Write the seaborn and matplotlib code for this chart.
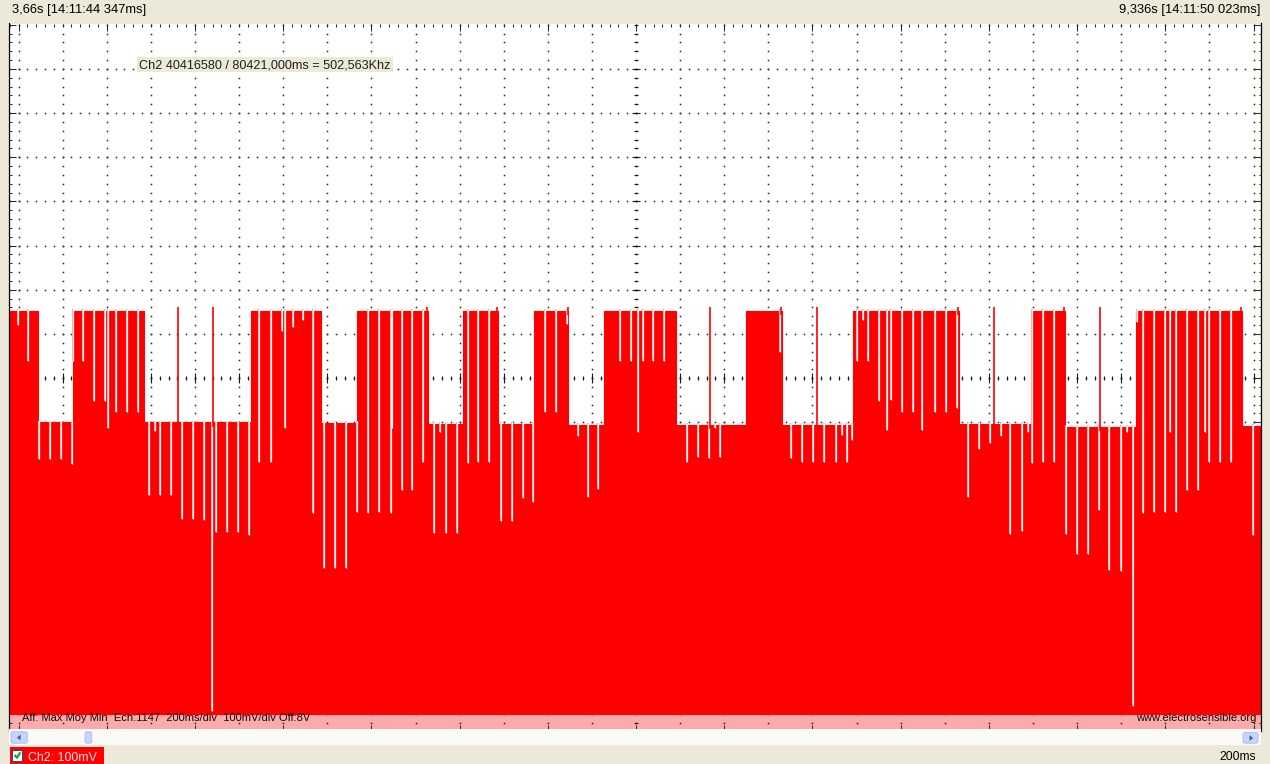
import numpy as np
import matplotlib
matplotlib.use("Agg")
import matplotlib.pyplot as plt
from matplotlib.patches import Rectangle, FancyBboxPatch, Polygon
from matplotlib.lines import Line2D
from matplotlib.transforms import Affine2D
import seaborn as sns

# ---- acquisition window (200 ms/div, 100 mV/div, offset 8 V) ----
T_START, T_END = 3.660, 9.336          # s
V_BOTTOM, V_TOP = 7.2, 8.803           # V
DIV_T, DIV_V = 0.2, 0.1
T_GRID0 = 3.702                        # first vertical division line
T_CENTER, V_CENTER = 6.502, 8.0

header_left = "3,66s [14:11:44 347ms]"
header_right = "9,336s [14:11:50 023ms]"
measure_label = "Ch2 40416580 / 80421,000ms = 502,563Khz"
info_label = "Aff: Max Moy Min  Ech:1147  200ms/div  100mV/div Off:8V"
site_label = "www.electrosensible.org"
channel_label = "Ch2: 100mV"
timebase_label = "200ms"

# Max trace: start time (s) of each high / low plateau and its level (V)
seg_start = [3.660, 3.789, 3.947, 4.272, 4.755, 5.073, 5.238, 5.557, 5.716, 5.875, 6.039,
             6.195, 6.358, 6.682, 7.001, 7.162, 7.484, 7.966, 8.292, 8.447, 8.768, 9.248]
seg_level = [8.152, 7.900, 8.152, 7.900, 8.152, 7.899, 8.152, 7.897, 8.152, 7.896, 8.152,
             7.895, 8.152, 7.894, 8.152, 7.894, 8.152, 7.896, 8.152, 7.890, 8.152, 7.892]

# Min trace level (V)
min_level = 7.238

# Short drop-outs of the max trace: time (s) and lowest value (V)
dip_t = [3.701,
         3.743, 3.793, 3.843, 3.893, 3.943, 3.949, 3.993, 4.044, 4.094, 4.106, 4.144, 4.194, 4.244,
         4.293, 4.321, 4.345, 4.395, 4.445, 4.494, 4.544, 4.581, 4.596, 4.646, 4.696, 4.746,
         4.794, 4.845, 4.895, 4.910, 4.945, 4.990, 5.036,
         5.087, 5.137, 5.187, 5.235,
         5.285, 5.336, 5.391, 5.395, 5.439, 5.487, 5.537,
         5.587, 5.613, 5.639, 5.689,
         5.739, 5.787, 5.837,
         5.888, 5.938, 5.988, 6.036,
         6.089, 6.138, 6.190,
         6.237, 6.283, 6.331,
         6.429, 6.479, 6.512, 6.532, 6.580, 6.630,
         6.732, 6.782, 6.831, 6.860, 6.883,
         7.155,
         7.205, 7.256, 7.306, 7.356, 7.407, 7.435, 7.457, 7.483,
         7.505, 7.530, 7.555, 7.605, 7.639, 7.657, 7.707, 7.757, 7.800, 7.858, 7.907, 7.959,
         8.006, 8.057, 8.107, 8.157, 8.198, 8.251, 8.281,
         8.299, 8.349, 8.399,
         8.450, 8.500, 8.550, 8.601, 8.648, 8.700, 8.727, 8.754,
         8.775, 8.801, 8.851, 8.901, 8.923, 8.950, 9.002, 9.052, 9.082, 9.101, 9.151, 9.200,
         9.301]
dip_v = [8.121,
         8.038, 7.817, 7.817, 7.817, 7.806, 8.038, 8.038, 7.949, 7.949, 7.888, 7.924, 7.924, 7.924,
         7.736, 7.881, 7.736, 7.736, 7.681, 7.681, 7.678, 7.246, 7.652, 7.652, 7.652, 7.645,
         7.811, 7.811, 8.107, 7.888, 8.115, 8.132, 7.695,
         7.570, 7.570, 7.570, 7.696,
         7.695, 7.697, 7.695, 7.888, 7.747, 7.747, 7.811,
         7.649, 7.877, 7.649, 7.649,
         7.808, 7.811, 7.811,
         7.677, 7.677, 7.729, 7.719,
         7.924, 7.924, 8.122,
         7.870, 7.731, 7.749,
         8.038, 8.038, 7.879, 8.038, 8.038, 8.038,
         7.811, 7.821, 7.819, 7.887, 7.821,
         8.059,
         7.819, 7.811, 7.811, 7.811, 7.811, 7.872, 7.811, 7.860,
         8.038, 8.132, 8.038, 7.949, 7.883, 7.951, 7.924, 7.924, 7.883, 7.924, 7.924, 7.932,
         7.732, 7.839, 7.854, 7.868, 7.647, 7.653, 7.879,
         7.808, 7.811, 7.811,
         7.647, 7.602, 7.602, 7.702, 7.566, 7.564, 7.879, 7.257,
         8.128, 7.695, 7.697, 7.698, 7.879, 7.697, 7.747, 7.747, 7.879, 7.811, 7.811, 7.811,
         7.645]

# Short overshoots of the max trace: time (s) and peak value (V)
spike_t = [4.426, 4.585, 5.553, 5.870, 6.194, 6.837, 7.161, 7.321, 7.961, 8.125, 8.443, 8.606, 9.245]
spike_v = [8.161, 8.161, 8.160, 8.160, 8.161, 8.160, 8.160, 8.161, 8.160, 8.161, 8.162, 8.161, 8.161]

# ---- style ----
sns.set_theme(style="white")
plt.rcParams["font.family"] = ["Liberation Sans", "DejaVu Sans"]

W, H = 1270, 764
BEIGE = "#ECE9D8"
RED = "#FF0000"
INK = "#1A1A1A"

fig = plt.figure(figsize=(W / 100, H / 100), dpi=100, facecolor=BEIGE)
# screen-pixel transform (origin top-left)
px = Affine2D().scale(1 / W, -1 / H).translate(0, 1) + fig.transFigure

L, R, T, B = 9.3, 1261.0, 23.5, 731.5
ax = fig.add_axes([L / W, 1 - B / H, (R - L) / W, (B - T) / H])
ax.set_facecolor("white")
ax.set_xlim(T_START, T_END)
ax.set_ylim(V_BOTTOM, V_TOP)
ax.set_axisbelow(True)

# scope rulers on the frame
sub_t = np.arange(T_GRID0 - DIV_T / 5, T_END, DIV_T / 5)
sub_v = np.arange(V_BOTTOM, 8.8 + 1e-6, DIV_V / 5)
vx = np.arange(T_GRID0, T_END, DIV_T)
hy = np.arange(V_BOTTOM + DIV_V, 8.8 - 1e-6, DIV_V)
ax.set_xticks(np.arange(T_GRID0, T_END, 2 * DIV_T))
ax.set_xticks(sub_t, minor=True)
ax.set_yticks(np.arange(V_BOTTOM, 8.8 + 1e-6, DIV_V))
ax.set_yticks(sub_v, minor=True)
ax.tick_params(which="both", direction="in", top=True, bottom=True, left=True, right=True,
               labelbottom=False, labelleft=False, color="#2A2A2A", width=0.75)
ax.tick_params(which="major", length=5.0)
ax.tick_params(which="minor", length=1.8)
for side in ("top", "bottom"):
    ax.spines[side].set_visible(False)
for side in ("left", "right"):
    ax.spines[side].set_color("black")
    ax.spines[side].set_linewidth(0.9)

# dotted graticule
gx = np.concatenate([np.repeat(vx, len(sub_v)), np.tile(sub_t, len(hy))])
gy = np.concatenate([np.tile(sub_v, len(vx)), np.repeat(hy, len(sub_t))])
ax.plot(gx, gy, ls="none", marker="s", ms=1.1, mew=0, color="#222222", zorder=0.6)

# centre axes with small ticks
ax.plot(sub_t, np.full(len(sub_t), V_CENTER), ls="none", marker="|", ms=3.2, mew=0.8,
        color=INK, zorder=0.7)
ax.plot(vx, np.full(len(vx), V_CENTER), ls="none", marker="|", ms=6.5, mew=0.8,
        color=INK, zorder=0.7)
ax.plot(np.full(len(sub_v), T_CENTER), sub_v, ls="none", marker="_", ms=3.5, mew=0.8,
        color=INK, zorder=0.7)
ax.plot(np.full(len(hy), T_CENTER), hy, ls="none", marker="_", ms=5.5, mew=0.8,
        color=INK, zorder=0.7)

# min trace band
ax.axhspan(V_BOTTOM - 0.05, min_level, color="#FFAAAA", lw=0, zorder=0.3)

# max / min envelope
edges = np.append(seg_start, T_END)
tops = np.append(seg_level, seg_level[-1])
ax.fill_between(edges, min_level, tops, step="post", color=RED, lw=0, zorder=1)
sns.lineplot(x=edges, y=tops, drawstyle="steps-post", color=RED, lw=0.8, ax=ax,
             sort=False, zorder=1.2)

levels = np.asarray(seg_level)
dip_top = levels[np.searchsorted(seg_start, dip_t, side="right") - 1] + 0.004
ax.vlines(dip_t, dip_v, dip_top, colors="#FFAAAA", lw=1.5, zorder=2)
ax.vlines(dip_t, dip_v, dip_top, colors="white", lw=0.85, zorder=2.1)

spike_base = levels[np.searchsorted(seg_start, spike_t, side="right") - 1] - 0.01
ax.vlines(spike_t, spike_base, spike_v, colors=RED, lw=1.2, zorder=2.2)

# ---- header bar ----
fig.text(12, 12.7, header_left, transform=px, fontsize=9.3, ha="left", va="baseline", color="black")
fig.text(1260, 12.7, header_right, transform=px, fontsize=9.3, ha="right", va="baseline", color="black")

# measurement readout
fig.add_artist(Rectangle((136.7, 57.3), 256.6, 14.4, transform=px, fc=BEIGE, ec="none", zorder=3))
fig.text(139.3, 69.0, measure_label, transform=px, fontsize=9.1, ha="left", va="baseline",
         color="#202020", zorder=4)

# on-screen info lines
fig.text(21.7, 721.0, info_label, transform=px, fontsize=8.0, ha="left", va="baseline",
         color="#0A0A0A", zorder=4)
fig.text(1256, 721.0, site_label, transform=px, fontsize=8.0, ha="right", va="baseline",
         color="#0A0A0A", zorder=4)

# ---- scrollbar ----
fig.add_artist(Rectangle((9.3, 729.3), 1251.7, 15.5, transform=px, fc="#F9F9F6", ec="none", zorder=5))
for x0, y0, w, h in [(11.0, 731.8, 16.3, 11.4), (85.0, 731.8, 6.7, 11.4), (1243.0, 732.5, 15.0, 10.7)]:
    fig.add_artist(FancyBboxPatch((x0, y0), w, h, boxstyle="round,pad=0,rounding_size=2",
                                  transform=px, fc="#C6D5FB", ec="#A7BCEB", lw=0.6, zorder=6))
fig.add_artist(Polygon([(16.8, 737.5), (20.6, 734.6), (20.6, 740.4)], closed=True,
                       transform=px, fc="#4D6185", ec="none", zorder=7))
fig.add_artist(Polygon([(1253.3, 738.0), (1249.5, 735.1), (1249.5, 740.9)], closed=True,
                       transform=px, fc="#4D6185", ec="none", zorder=7))

# ---- status bar ----
fig.add_artist(Rectangle((10.0, 747.0), 94.0, 17.0, transform=px, fc=RED, ec="none", zorder=5))
fig.add_artist(Rectangle((12.3, 750.3), 10.0, 10.5, transform=px, fc="white", ec="#1C5180",
                         lw=0.8, zorder=6))
fig.add_artist(Line2D([14.6, 16.9, 20.4], [755.0, 757.8, 752.4], transform=px, color="#21A121",
                      lw=1.6, solid_capstyle="butt", zorder=7))
fig.text(28.3, 761.0, channel_label, transform=px, fontsize=8.9, ha="left", va="baseline",
         color="#FFE4E4", zorder=7)
fig.text(1256.5, 759.5, timebase_label, transform=px, fontsize=8.7, ha="right", va="baseline",
         color="black", zorder=7)

fig.savefig("out.png", dpi=100, facecolor=BEIGE)
